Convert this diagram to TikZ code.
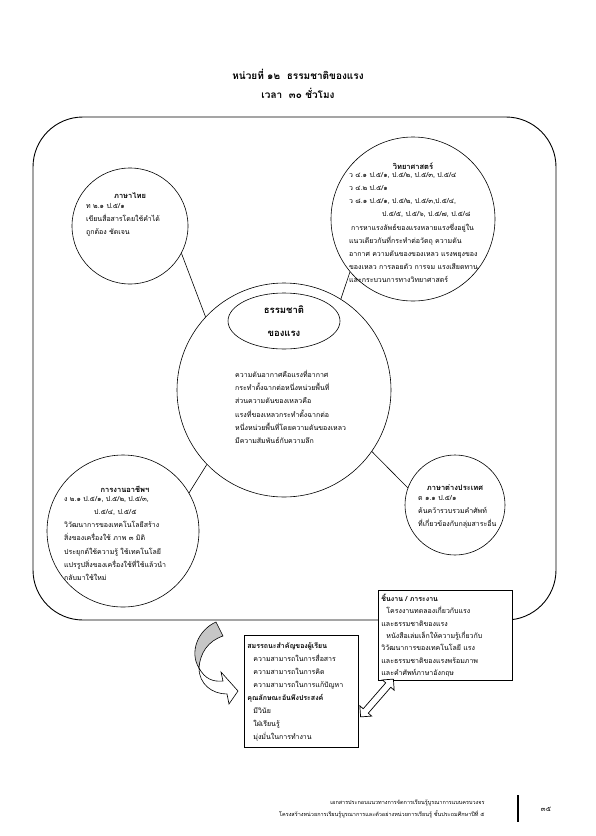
\documentclass[tikz,border=0pt]{standalone}
\usepackage{fontspec}
\newfontfamily\thaifont[Script=Thai]{Loma}
\usetikzlibrary{shapes.geometric, shapes.arrows, positioning}

\begin{document}
\begin{tikzpicture}[
    x=1pt, y=-1pt,
    topic/.style={circle, draw, line width=0.6pt, inner sep=0pt},
    body/.style={anchor=north west, align=left, inner sep=0pt, font=\thaifont\fontsize{7}{13.2}\selectfont},
    head/.style={inner sep=0pt, font=\thaifont\bfseries\fontsize{7.5}{9}\selectfont},
    panel/.style={rectangle, draw, line width=0.9pt, fill=white, anchor=north west, align=left, inner sep=3pt},
    link/.style={line width=0.6pt}
]
\useasboundingbox (0,0) rectangle (595,836);

% title
\node[font=\thaifont\bfseries\fontsize{10}{12}\selectfont] (title) at (298,74) {หน่วยที่ ๑๒ \ ธรรมชาติของแรง};
\node[font=\thaifont\bfseries\fontsize{10}{12}\selectfont, below=2pt of title] (hours) {เวลา \ ๓๐ ชั่วโมง};

% frame
\draw[line width=0.9pt, rounded corners=50pt] (33,117) rectangle (556,620);

% topics
\node[topic, minimum size=214pt] (core) at (284,390) {};
\node[draw, ellipse, line width=0.6pt, minimum width=112pt, minimum height=56pt, align=center,
      font=\thaifont\bfseries\fontsize{9.5}{23}\selectfont] (name) at (284,321) {ธรรมชาติ\\ของแรง};
\node[topic, minimum size=116pt] (thai) at (130,226) {};
\node[topic, minimum size=164pt] (sci) at (413,219) {};
\node[topic, minimum size=152pt] (job) at (123,531) {};
\node[topic, minimum size=100pt] (eng) at (455,505) {};

\draw[link] (thai.-28) -- (core.137);
\draw[link] (sci.220) -- (core.58);
\draw[link] (job.30) -- (core.224);
\draw[link] (eng.160) -- (core.-35);

% texts in circles
\node[head] (thaihead) at (130,196) {ภาษาไทย};
\node[body] (thaitext) at (86,203) {ท ๒.๑ ป.๕/๑\\เขียนสื่อสารโดยใช้คำได้\\ถูกต้อง ชัดเจน};

\node[head] (scihead) at (413,166) {วิทยาศาสตร์};
\node[body] (scitext) at (349,172) {ว ๔.๑ ป.๕/๑, ป.๕/๒, ป.๕/๓, ป.๕/๔\\ว ๔.๒ ป.๕/๑\\ว ๘.๑ ป.๕/๑, ป.๕/๒, ป.๕/๓,ป.๕/๔,\\\hspace*{33pt}ป.๕/๕, ป.๕/๖, ป.๕/๗, ป.๕/๘\\\hspace*{2pt}การหาแรงลัพธ์ของแรงหลายแรงซึ่งอยู่ใน\\แนวเดียวกันที่กระทำต่อวัตถุ ความดัน\\อากาศ ความดันของของเหลว แรงพยุงของ\\ของเหลว การลอยตัว การจม แรงเสียดทาน\\และกระบวนการทางวิทยาศาสตร์};

\node[body] (coretext) at (235,370) {ความดันอากาศคือแรงที่อากาศ\\กระทำตั้งฉากต่อหนึ่งหน่วยพื้นที่\\ส่วนความดันของเหลวคือ\\แรงที่ของเหลวกระทำตั้งฉากต่อ\\หนึ่งหน่วยพื้นที่โดยความดันของเหลว\\มีความสัมพันธ์กับความลึก};

\node[head] (jobhead) at (125,489) {การงานอาชีพฯ};
\node[body] (jobtext) at (64,496) {ง ๒.๑ ป.๕/๑, ป.๕/๒, ป.๕/๓,\\\hspace*{30pt}ป.๕/๔, ป.๕/๕\\วิวัฒนาการของเทคโนโลยีสร้าง\\สิ่งของเครื่องใช้ ภาพ ๓ มิติ\\ประยุกต์ใช้ความรู้ ใช้เทคโนโลยี\\แปรรูปสิ่งของเครื่องใช้ที่ใช้แล้วนำ\\กลับมาใช้ใหม่};

\node[head] (enghead) at (455,488) {ภาษาต่างประเทศ};
\node[body] (engtext) at (418,495) {ต ๑.๑ ป.๕/๑\\ค้นคว้ารวบรวมคำศัพท์\\ที่เกี่ยวข้องกับกลุ่มสาระอื่น};

% boxes
\node[panel, minimum width=134pt, minimum height=90pt, text width=128pt,
      font=\thaifont\fontsize{7}{12.4}\selectfont] (work) at (378,590) {\textbf{ชิ้นงาน / ภาระงาน}\\\hspace*{5pt}โครงงานทดลองเกี่ยวกับแรง\\และธรรมชาติของแรง\\\hspace*{5pt}หนังสือเล่มเล็กให้ความรู้เกี่ยวกับ\\วิวัฒนาการของเทคโนโลยี แรง\\และธรรมชาติของแรงพร้อมภาพ\\และคำศัพท์ภาษาอังกฤษ};
\node[panel, minimum width=114pt, minimum height=112pt, text width=108pt,
      font=\thaifont\fontsize{7}{13}\selectfont] (skill) at (244,635) {\textbf{สมรรถนะสำคัญของผู้เรียน}\\\hspace*{6pt}ความสามารถในการสื่อสาร\\\hspace*{6pt}ความสามารถในการคิด\\\hspace*{6pt}ความสามารถในการแก้ปัญหา\\\textbf{คุณลักษณะอันพึงประสงค์}\\\hspace*{6pt}มีวินัย\\\hspace*{6pt}ใฝ่เรียนรู้\\\hspace*{6pt}มุ่งมั่นในการทำงาน};

% arrows
\filldraw[fill=gray!45, line width=0.6pt] (216,622) -- (223,636) .. controls (208,641) and (200,653) .. (199,668) .. controls (189,652) and (198,630) .. cycle;
\filldraw[fill=white, line width=0.6pt] (199,668) .. controls (205,679) and (213,682) .. (223,681) -- (221,672) -- (238,691) -- (229,704) -- (227,694) .. controls (212,694) and (199,684) .. cycle;
\node[double arrow, draw, fill=white, line width=0.7pt, minimum height=50pt, inner sep=3pt, double arrow head extend=4.5pt, rotate=49] (swap) at (377,698) {};

% footer
\node[font=\thaifont\fontsize{5.5}{11.5}\selectfont, align=right, anchor=east] (doc) at (488,809) {เอกสารประกอบแนวทางการจัดการเรียนรู้บูรณาการแบบครบวงจร\\โครงสร้างหน่วยการเรียนรู้บูรณาการและตัวอย่างหน่วยการเรียนรู้ ชั้นประถมศึกษาปีที่ ๕};
\draw[line width=1.6pt] (518,795) -- (518,822);
\node[font=\thaifont\fontsize{7}{9}\selectfont] (page) at (546,809) {๓๕};
\end{tikzpicture}
\end{document}
